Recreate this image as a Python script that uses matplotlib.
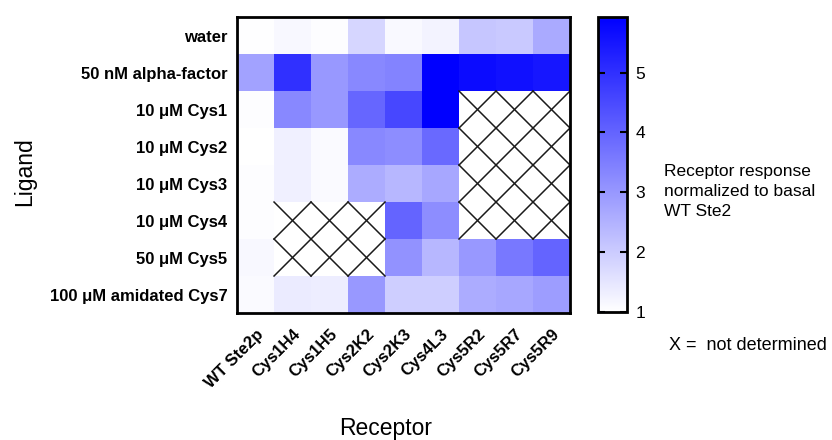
import numpy as np
import matplotlib
matplotlib.use("Agg")
import matplotlib.pyplot as plt
from matplotlib.colors import LinearSegmentedColormap

plt.rcParams['font.family'] = ['Liberation Sans', 'DejaVu Sans']

# 数据
ligands = ["water", "50 nM alpha-factor", "10 μM Cys1", "10 μM Cys2",
           "10 μM Cys3", "10 μM Cys4", "50 μM Cys5", "100 μM amidated Cys7"]
receptors = ["WT Ste2p", "Cys1H4", "Cys1H5", "Cys2K2", "Cys2K3",
             "Cys4L3", "Cys5R2", "Cys5R7", "Cys5R9"]
nan = np.nan
water = [1.03, 1.15, 1.05, 1.8, 1.12, 1.25, 2.1, 2.05, 2.65]
alpha = [2.8, 5.0, 3.0, 3.3, 3.4, 5.93, 5.7, 5.6, 5.5]
cys1 = [1.05, 3.3, 3.0, 3.95, 4.55, 5.93, nan, nan, nan]
cys2 = [1.0, 1.3, 1.1, 3.3, 3.2, 3.9, nan, nan, nan]
cys3 = [1.05, 1.3, 1.1, 2.6, 2.4, 2.7, nan, nan, nan]
cys4 = [1.05, nan, nan, nan, 4.0, 3.2, nan, nan, nan]
cys5 = [1.15, nan, nan, nan, 3.1, 2.4, 3.0, 3.6, 4.0]
cys7 = [1.1, 1.4, 1.35, 3.0, 1.95, 1.95, 2.6, 2.7, 2.9]
cbar_ticks = [1, 2, 3, 4, 5]

data = np.array([water, alpha, cys1, cys2, cys3, cys4, cys5, cys7])

cmap = LinearSegmentedColormap.from_list("wb", ["#ffffff", "#0000ff"])
cmap.set_bad("white")

fig = plt.figure(figsize=(8.32, 4.4), dpi=100)
ax = fig.add_axes([0.2849, 0.2886, 0.4002, 0.6727])
im = ax.imshow(np.ma.masked_invalid(data), cmap=cmap, vmin=1, vmax=5.93,
               aspect='auto', interpolation='nearest')

# 未测定的格子画 X
for i in range(data.shape[0]):
    for j in range(data.shape[1]):
        if np.isnan(data[i, j]):
            ax.plot([j - .5, j + .5], [i - .5, i + .5], color='#1a1a1a', lw=1.1)
            ax.plot([j - .5, j + .5], [i + .5, i - .5], color='#1a1a1a', lw=1.1)

ax.set_xlim(-0.5, data.shape[1] - 0.5)
ax.set_ylim(data.shape[0] - 0.5, -0.5)
ax.set_xticks(range(len(receptors)))
ax.set_xticklabels(receptors, rotation=45, ha='right', rotation_mode='anchor',
                   fontsize=12, fontweight='bold')
ax.set_yticks(range(len(ligands)))
ax.set_yticklabels(ligands, fontsize=12, fontweight='bold')
ax.tick_params(axis='y', length=0, pad=7)
ax.tick_params(axis='x', length=0, pad=10)
for s in ax.spines.values():
    s.set_linewidth(2)

# colorbar
cax = fig.add_axes([0.7188, 0.2909, 0.0349, 0.6705])
cb = fig.colorbar(im, cax=cax, ticks=cbar_ticks)
cb.outline.set_linewidth(2)
cax.tick_params(labelsize=12.5, length=5, width=1.5, direction='in',
                left=True, right=True, pad=6)

fig.text(0.798, 0.565, "Receptor response\nnormalized to basal\nWT Ste2",
         fontsize=12.5, va='center', ha='left', linespacing=1.45)
fig.text(0.804, 0.215, "X =  not determined", fontsize=13, va='center', ha='left')

fig.text(0.464, 0.027, "Receptor", fontsize=16.5, ha='center', va='center')
fig.text(0.03, 0.61, "Ligand", fontsize=16.5, ha='center', va='center', rotation=90)

plt.savefig("out.png", dpi=100)
plt.close()
